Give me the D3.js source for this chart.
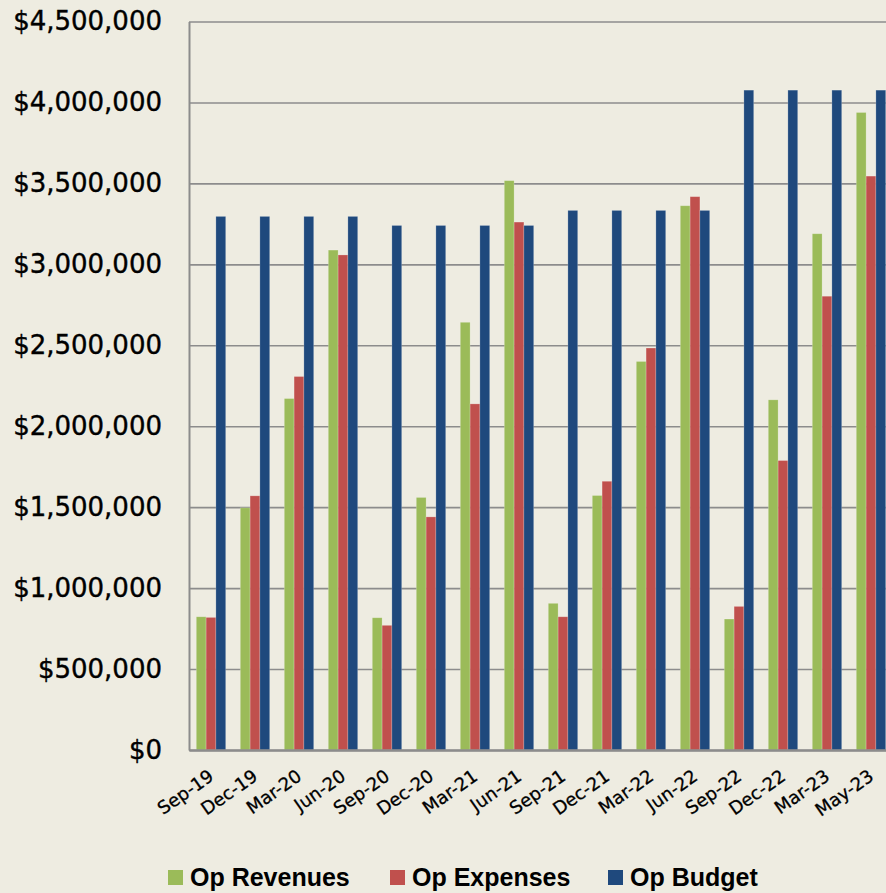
<!DOCTYPE html>
<html>
<head>
<meta charset="utf-8">
<script src="https://cdn.jsdelivr.net/npm/d3@7"></script>
<style>
  body { margin: 0; background: #EEECE1; }
  svg { display: block; }
</style>
</head>
<body>
<script>
// données
var categories = ["Sep-19", "Dec-19", "Mar-20", "Jun-20", "Sep-20", "Dec-20", "Mar-21", "Jun-21",
    "Sep-21", "Dec-21", "Mar-22", "Jun-22", "Sep-22", "Dec-22", "Mar-23", "May-23"];
var opRevenues = [823000, 1496000, 2171000, 3088000, 817000, 1560000, 2642000, 3517000,
    906000, 1572000, 2400000, 3362000, 809000, 2163000, 3189000, 3938000];
var opExpenses = [819000, 1570000, 2307000, 3058000, 770000, 1440000, 2138000, 3261000,
    823000, 1660000, 2483000, 3418000, 887000, 1788000, 2803000, 3545000];
var opBudget = [3296000, 3296000, 3296000, 3296000, 3240000, 3240000, 3240000, 3240000,
    3333000, 3333000, 3333000, 3333000, 4076000, 4076000, 4076000, 4076000];
var seriesNames = ["Op Revenues", "Op Expenses", "Op Budget"];
var yTicks = [0, 500000, 1000000, 1500000, 2000000, 2500000, 3000000, 3500000, 4000000, 4500000];

var colors = ["#9BBB59", "#C0504D", "#1F497D"];

var width = 886;
var height = 893;
var plotLeft = 189, plotRight = 893, plotTop = 21.5, plotBottom = 750;

var data = categories.map(function (c, i) {
    return { cat: c, values: [opRevenues[i], opExpenses[i], opBudget[i]] };
});

var svg = d3.select("body")
    .append("svg")
    .attr("width", width)
    .attr("height", height)
    .style("background", "#EEECE1");

var x0 = d3.scaleBand()
    .domain(categories)
    .range([plotLeft, plotRight]);

var x1 = d3.scaleBand()
    .domain(d3.range(3))
    .range([0, x0.bandwidth()])
    .paddingOuter(0.745);

var yscale = d3.scaleLinear()
    .domain([0, 4500000])
    .range([plotBottom, plotTop]);

// axe y + grille
var yAxis = svg.append("g")
    .attr("transform", "translate(" + plotLeft + ",0)")
    .call(d3.axisLeft(yscale)
        .tickValues(yTicks)
        .tickFormat(d3.format("$,.0f"))
        .tickSizeInner(-(plotRight - plotLeft))
        .tickSizeOuter(0)
        .tickPadding(27));

yAxis.select(".domain").attr("stroke", "#8C8C8C").attr("stroke-width", 2);
yAxis.selectAll(".tick line").attr("stroke", "#8C8C8C").attr("stroke-width", 1.6);
yAxis.selectAll(".tick text")
    .attr("fill", "#000")
    .attr("stroke", "#000")
    .attr("stroke-width", 0.4)
    .style("font-family", "DejaVu Sans, sans-serif")
    .style("font-size", "26px");

// barres
svg.append("g")
    .selectAll("g")
    .data(data)
    .enter()
    .append("g")
    .attr("transform", function (d) { return "translate(" + x0(d.cat) + ",0)"; })
    .selectAll("rect")
    .data(function (d) { return d.values; })
    .enter()
    .append("rect")
    .attr("x", function (d, i) { return x1(i); })
    .attr("y", function (d) { return yscale(d); })
    .attr("width", x1.bandwidth())
    .attr("height", function (d) { return plotBottom - yscale(d); })
    .attr("fill", function (d, i) { return colors[i]; })
    .attr("stroke", "rgba(255,255,255,0.25)")
    .attr("stroke-width", 0.8);

// axe x
var xAxis = svg.append("g")
    .attr("transform", "translate(0," + plotBottom + ")")
    .call(d3.axisBottom(x0).tickSize(0).tickPadding(0));

xAxis.select(".domain").attr("stroke", "#8C8C8C").attr("stroke-width", 2.5);
xAxis.selectAll(".tick text")
    .attr("fill", "#000")
    .attr("stroke", "#000")
    .attr("stroke-width", 0.3)
    .attr("text-anchor", "end")
    .attr("dy", null)
    .attr("y", null)
    .attr("transform", "translate(4,29) rotate(-35)")
    .style("font-family", "DejaVu Sans, sans-serif")
    .style("font-size", "18px");

// légende
var legendX = [168, 390, 608];
var legend = svg.append("g")
    .selectAll("g")
    .data(seriesNames)
    .enter()
    .append("g")
    .attr("transform", function (d, i) { return "translate(" + legendX[i] + ",870)"; });

legend.append("rect")
    .attr("width", 15)
    .attr("height", 15)
    .attr("fill", function (d, i) { return colors[i]; });

legend.append("text")
    .attr("x", 22)
    .attr("y", 16)
    .text(function (d) { return d; })
    .style("font-family", "Liberation Sans, Arial, sans-serif")
    .style("font-weight", "bold")
    .style("font-size", "25px")
    .attr("fill", "#000");
</script>
</body>
</html>
